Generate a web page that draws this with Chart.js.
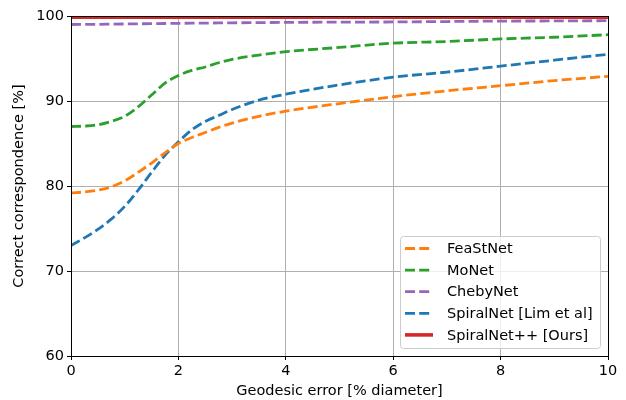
<!DOCTYPE html>
<html>
  <head>
    <title>Correspondence vs geodesic error</title>
    <script src="https://cdn.jsdelivr.net/npm/chart.js@4"></script>
    <style>
      body { margin: 0; background: white; }
      canvas { display: block; }
    </style>
  </head>
  <body>
    <canvas id="chart" width="626" height="400"></canvas>
    <script>
      // Geodesic error [% diameter]
      const geodesicError = [0, 0.25, 0.5, 0.75, 1, 1.25, 1.5, 1.75, 2, 2.25, 2.5, 2.75, 3, 3.5, 4, 5, 6, 7, 8, 9, 10]

      const feaStNet = [79.2, 79.3, 79.5, 79.9, 80.6, 81.6, 82.7, 83.9, 85.0, 85.7, 86.3, 86.9, 87.4, 88.2, 88.8, 89.7, 90.5, 91.2, 91.8, 92.4, 92.9]
      const moNet = [87.0, 87.05, 87.2, 87.6, 88.2, 89.3, 90.7, 92.1, 93.0, 93.6, 94.0, 94.5, 94.9, 95.4, 95.8, 96.3, 96.8, 97.0, 97.3, 97.5, 97.8]
      const chebyNet = [99.0, 99.01, 99.02, 99.04, 99.06, 99.08, 99.1, 99.12, 99.14, 99.16, 99.17, 99.18, 99.2, 99.22, 99.25, 99.28, 99.3, 99.35, 99.4, 99.42, 99.45]
      const spiralNet = [73.0, 73.9, 74.9, 76.1, 77.6, 79.5, 81.6, 83.6, 85.2, 86.6, 87.6, 88.3, 89.0, 90.1, 90.8, 91.9, 92.8, 93.4, 94.1, 94.8, 95.5]
      const spiralNetPP = [99.86, 99.86, 99.86, 99.86, 99.86, 99.86, 99.86, 99.86, 99.86, 99.86, 99.86, 99.86, 99.86, 99.86, 99.86, 99.86, 99.86, 99.86, 99.86, 99.86, 99.86]

      const xTicks = [0, 2, 4, 6, 8, 10]
      const yTicks = [60, 70, 80, 90, 100]

      const palette = {
        orange: "#ff7f0e",
        green: "#2ca02c",
        purple: "#9467bd",
        blue: "#1f77b4",
        red: "#d62728",
      }

      const dash = [10, 4.2]

      function series(label, values, color, dashed) {
        return {
          label,
          data: values.map((y, i) => ({ x: geodesicError[i], y })),
          borderColor: color,
          backgroundColor: color,
          borderWidth: dashed ? 2.8 : 3.6,
          borderDash: dashed ? dash : [],
          pointRadius: 0,
          cubicInterpolationMode: "monotone",
          fill: false,
        }
      }

      const datasets = [
        series("FeaStNet", feaStNet, palette.orange, true),
        series("MoNet", moNet, palette.green, true),
        series("ChebyNet", chebyNet, palette.purple, true),
        series("SpiralNet [Lim et al]", spiralNet, palette.blue, true),
        series("SpiralNet++ [Ours]", spiralNetPP, palette.red, false),
      ]

      const font = { family: "DejaVu Sans", size: 14.5 }
      Chart.defaults.color = "#000"
      Chart.defaults.font = font

      // frame + matplotlib-like legend inside the plot
      const frameAndLegend = {
        id: "frameAndLegend",
        afterDatasetsDraw(chart) {
          const { ctx, chartArea: a } = chart
          ctx.save()
          ctx.strokeStyle = "#000"
          ctx.lineWidth = 1
          ctx.strokeRect(Math.round(a.left) + 0.5, Math.round(a.top) + 0.5,
            Math.round(a.right - a.left), Math.round(a.bottom - a.top))

          const w = 200, h = 112, rowH = 21.6
          const x0 = a.right - 8 - w, y0 = a.bottom - 8 - h
          ctx.beginPath()
          ctx.roundRect(x0 + 0.5, y0 + 0.5, w, h, 3)
          ctx.fillStyle = "rgba(255,255,255,0.8)"
          ctx.fill()
          ctx.strokeStyle = "#cccccc"
          ctx.stroke()

          ctx.font = "14.5px 'DejaVu Sans'"
          ctx.textBaseline = "middle"
          ctx.fillStyle = "#000"
          chart.data.datasets.forEach((ds, i) => {
            const y = y0 + 12.5 + i * rowH
            ctx.beginPath()
            ctx.setLineDash(ds.borderDash)
            ctx.strokeStyle = ds.borderColor
            ctx.lineWidth = ds.borderWidth
            ctx.moveTo(x0 + 5, y)
            ctx.lineTo(x0 + 33, y)
            ctx.stroke()
            ctx.setLineDash([])
            ctx.fillText(ds.label, x0 + 47, y + 1)
          })
          ctx.restore()
        },
      }

      new Chart(document.getElementById("chart"), {
        type: "line",
        data: { datasets },
        plugins: [frameAndLegend],
        options: {
          responsive: false,
          animation: false,
          layout: { padding: { top: 16, right: 18, left: 0, bottom: 0 } },
          plugins: { legend: { display: false }, tooltip: { enabled: false } },
          scales: {
            x: {
              type: "linear",
              min: 0,
              max: 10,
              afterBuildTicks: scale => { scale.ticks = xTicks.map(value => ({ value })) },
              afterFit: scale => { scale.height = 44 },
              ticks: { font, padding: 3, maxRotation: 0 },
              grid: { color: "#b0b0b0", lineWidth: 1, tickColor: "#000", tickLength: 4 },
              border: { color: "#000", width: 1 },
              title: { display: true, text: "Geodesic error [% diameter]", font, padding: { top: 0, bottom: 0 } },
            },
            y: {
              min: 60,
              max: 100,
              afterBuildTicks: scale => { scale.ticks = yTicks.map(value => ({ value })) },
              afterFit: scale => { scale.width = 71 },
              ticks: { font, padding: 3 },
              grid: { color: "#b0b0b0", lineWidth: 1, tickColor: "#000", tickLength: 4 },
              border: { color: "#000", width: 1 },
              title: { display: true, text: "Correct correspondence [%]", font, padding: { top: 11, bottom: 0 } },
            },
          },
        },
      })
    </script>
  </body>
</html>
